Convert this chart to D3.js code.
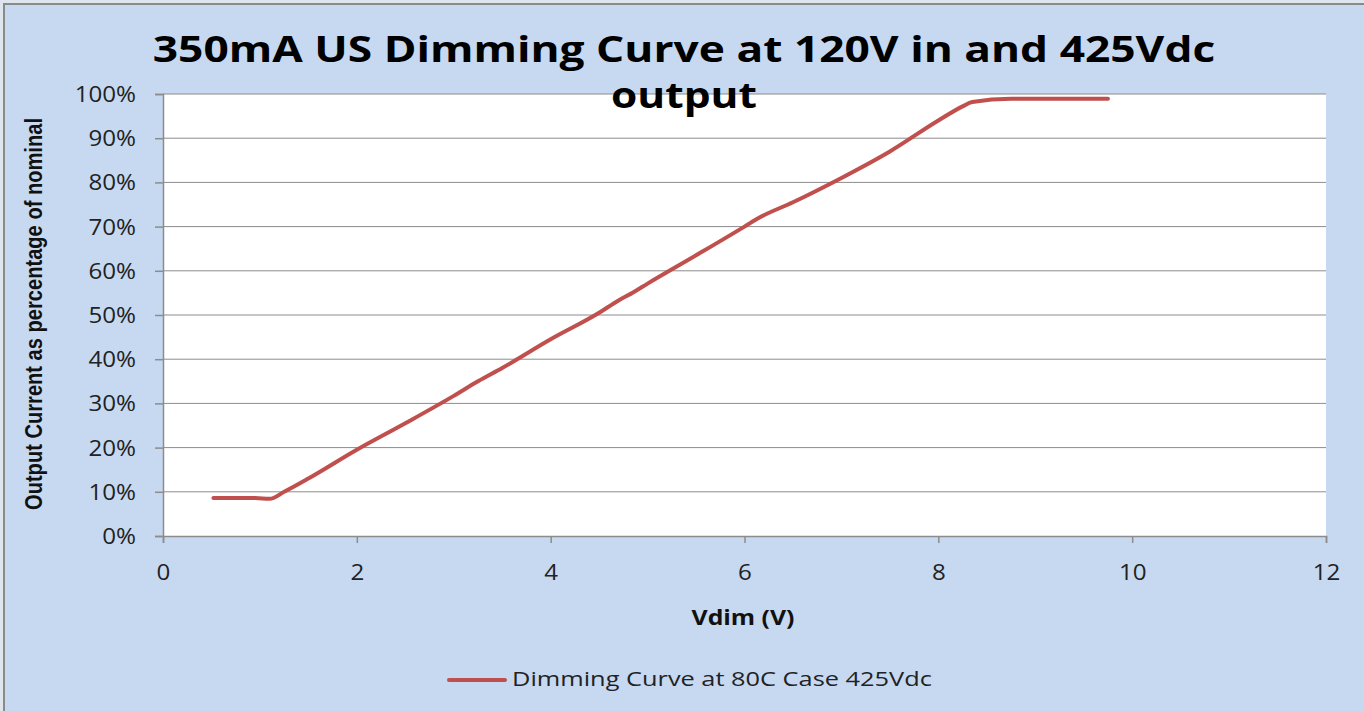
<!DOCTYPE html>
<html>
<head>
<meta charset="utf-8">
<script src="https://cdn.jsdelivr.net/npm/d3@7"></script>
<style>
  body { margin: 0; background: #dfe5ec; }
  svg { display: block; }
</style>
</head>
<body>
<div id="chart"></div>
<script>
// values
var vdim = [0.52, 0.95, 1.1, 1.25, 1.5, 2.0, 2.5, 3.0, 3.25, 3.5, 4.0, 4.5, 4.7, 4.85, 5.0, 5.5, 6.0, 6.15, 6.5, 7.0, 7.5, 8.0, 8.25, 8.35, 8.75, 9.75];
var current = [8.6, 8.6, 8.4, 10, 13, 19.5, 25.5, 31.7, 35, 38, 44.5, 50.5, 53.3, 55.1, 57.1, 63.5, 70, 72, 75.5, 81, 87, 94, 97.2, 98.2, 98.9, 98.9];
var xTicks = [0, 2, 4, 6, 8, 10, 12];
var yTicks = [0, 10, 20, 30, 40, 50, 60, 70, 80, 90, 100];
var seriesName = "Dimming Curve at 80C Case 425Vdc";
var titleLines = ["350mA US Dimming Curve at 120V in and 425Vdc", "output"];

var width = 1364, height = 711;
var plot = { left: 163, top: 94, right: 1326, bottom: 536 };
var font = "'Open Sans', sans-serif";
var tickStretch = 1.15;

var svg = d3.select("#chart").append("svg")
    .attr("width", width)
    .attr("height", height);

//the picture's text is stretched sideways, so squeeze/stretch each label to its width
function fitText(sel, cx, cy, targetWidth, anchor) {
    var w = sel.node().getComputedTextLength();
    var sx = targetWidth / w;
    sel.attr("text-anchor", anchor || "middle")
        .attr("transform", "translate(" + cx + "," + cy + ") scale(" + sx + ",1)");
    return sel;
}

//chart background with frame
svg.append("rect")
    .attr("x", 4).attr("y", 4)
    .attr("width", width + 10).attr("height", height + 10)
    .attr("fill", "#c6d9f1")
    .attr("stroke", "#8a8a8a")
    .attr("stroke-width", 2);

var x = d3.scaleLinear().domain([0, 12]).range([plot.left, plot.right]);
var y = d3.scaleLinear().domain([0, 100]).range([plot.bottom, plot.top]);

svg.append("rect")
    .attr("x", plot.left).attr("y", plot.top)
    .attr("width", plot.right - plot.left)
    .attr("height", plot.bottom - plot.top)
    .attr("fill", "#ffffff");

//gridlines
svg.append("g")
    .selectAll("line")
    .data(yTicks.filter(function (d) { return d > 0; }))
    .enter().append("line")
    .attr("x1", plot.left).attr("x2", plot.right)
    .attr("y1", function (d) { return y(d); })
    .attr("y2", function (d) { return y(d); })
    .attr("stroke", "#8c8c8c")
    .attr("stroke-width", 1);

var yAxis = svg.append("g")
    .attr("transform", "translate(" + plot.left + ",0)")
    .call(d3.axisLeft(y).tickValues(yTicks).tickSize(8)
        .tickFormat(function (d) { return d + "%"; }));

var xAxis = svg.append("g")
    .attr("transform", "translate(0," + plot.bottom + ")")
    .call(d3.axisBottom(x).tickValues(xTicks).tickSize(7));

[xAxis, yAxis].forEach(function (ax) {
    ax.attr("font-family", font).attr("font-size", 21);
    ax.select(".domain").attr("stroke", "#8c8c8c").attr("stroke-width", 1.5);
    ax.selectAll(".tick line").attr("stroke", "#8c8c8c").attr("stroke-width", 1.5);
    ax.selectAll("text").attr("fill", "#222");
});

yAxis.selectAll(".tick text")
    .attr("x", -27 / tickStretch)
    .attr("dy", "0.36em")
    .attr("transform", "scale(" + tickStretch + ",1)");

xAxis.selectAll(".tick text")
    .attr("y", 44)
    .attr("dy", 0)
    .attr("transform", "scale(" + tickStretch + ",1)");

//the curve
var points = vdim.map(function (v, i) { return [v, current[i]]; });
var line = d3.line()
    .curve(d3.curveMonotoneX)
    .x(function (d) { return x(d[0]); })
    .y(function (d) { return y(d[1]); });

svg.append("path")
    .datum(points)
    .attr("d", line)
    .attr("fill", "none")
    .attr("stroke", "#c0504d")
    .attr("stroke-width", 4)
    .attr("stroke-linejoin", "round")
    .attr("stroke-linecap", "round");

//title
var titleWidths = [1063, 146];
var titleCenters = [684, 684];
var titleBase = [62, 108];
titleLines.forEach(function (t, i) {
    var el = svg.append("text")
        .attr("font-family", font)
        .attr("font-weight", "bold")
        .attr("font-size", 35)
        .attr("fill", "#000")
        .text(t);
    fitText(el, titleCenters[i], titleBase[i], titleWidths[i]);
});

//axis titles
var xTitle = svg.append("text")
    .attr("font-family", font)
    .attr("font-weight", "bold")
    .attr("font-size", 21)
    .attr("fill", "#111")
    .text("Vdim (V)");
fitText(xTitle, 743, 625, 103);

svg.append("text")
    .attr("transform", "translate(42,314) rotate(-90)")
    .attr("text-anchor", "middle")
    .attr("font-family", "'Liberation Sans Narrow', 'Liberation Sans', sans-serif")
    .attr("font-weight", "bold")
    .attr("font-size", 23)
    .attr("fill", "#111")
    .attr("textLength", 392)
    .attr("lengthAdjust", "spacingAndGlyphs")
    .text("Output Current as percentage of nominal");

//legend
svg.append("line")
    .attr("x1", 449).attr("x2", 505)
    .attr("y1", 680).attr("y2", 680)
    .attr("stroke", "#c0504d")
    .attr("stroke-width", 4)
    .attr("stroke-linecap", "round");

var legendText = svg.append("text")
    .attr("font-family", font)
    .attr("font-size", 19.5)
    .attr("fill", "#222")
    .text(seriesName);
fitText(legendText, 512, 686, 420, "start");
</script>
</body>
</html>
